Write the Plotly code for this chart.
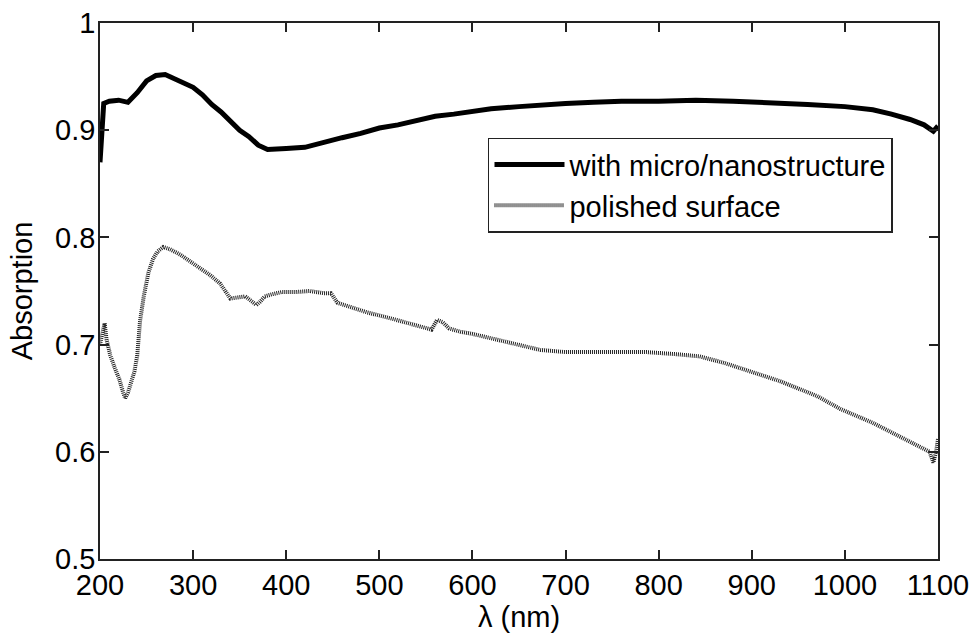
import plotly.graph_objects as go

# ---- data ----
wl_micro = [200, 202, 204, 210, 220, 230, 240, 250, 260, 270, 280, 290, 300, 310, 320, 330, 340, 350,
            360, 370, 380, 390, 400, 420, 440, 460, 480, 500, 520, 540, 560, 580, 600, 620, 650, 680,
            700, 730, 760, 800, 840, 880, 920, 960, 1000, 1030, 1050, 1070, 1085, 1095, 1100]
abs_micro = [0.870, 0.905, 0.925, 0.927, 0.928, 0.926, 0.935, 0.946, 0.951, 0.952, 0.948, 0.945, 0.940,
             0.933, 0.924, 0.917, 0.908, 0.900, 0.894, 0.886, 0.882, 0.883, 0.883, 0.884, 0.889, 0.893,
             0.897, 0.902, 0.905, 0.909, 0.913, 0.915, 0.918, 0.920, 0.922, 0.924, 0.925, 0.926, 0.927,
             0.927, 0.928, 0.927, 0.926, 0.924, 0.922, 0.919, 0.915, 0.910, 0.905, 0.899, 0.904]

wl_pol = [200, 203, 205, 207, 211, 216, 221, 225, 227, 230, 233, 237, 240, 243, 247, 252, 257, 262, 268,
          275, 286, 296, 307, 318, 329, 335, 340, 348, 356, 362, 368, 372, 377, 385, 395, 410, 425, 440,
          448, 455, 470, 487, 510, 530, 550, 556, 562, 568, 575, 587, 600, 630, 650, 673, 700, 737, 787,
          820, 844, 870, 898, 930, 970, 995, 1030, 1059, 1080, 1091, 1095, 1098, 1100]
abs_pol = [0.700, 0.715, 0.720, 0.705, 0.690, 0.678, 0.667, 0.655, 0.650, 0.655, 0.663, 0.675, 0.690,
           0.722, 0.745, 0.767, 0.780, 0.787, 0.791, 0.789, 0.784, 0.778, 0.772, 0.765, 0.757, 0.750,
           0.743, 0.744, 0.745, 0.741, 0.737, 0.740, 0.745, 0.747, 0.749, 0.749, 0.750, 0.748, 0.748,
           0.739, 0.735, 0.730, 0.725, 0.720, 0.715, 0.714, 0.723, 0.721, 0.715, 0.712, 0.710, 0.704,
           0.700, 0.695, 0.693, 0.693, 0.693, 0.691, 0.689, 0.683, 0.675, 0.666, 0.652, 0.640, 0.627,
           0.614, 0.605, 0.600, 0.590, 0.600, 0.612]

x_ticks = [200, 300, 400, 500, 600, 700, 800, 900, 1000, 1100]
y_ticks = [0.5, 0.6, 0.7, 0.8, 0.9, 1.0]
y_tick_text = ["0.5", "0.6", "0.7", "0.8", "0.9", "1"]
x_title = "λ (nm)"
y_title = "Absorption"

FONT = "Liberation Sans, Arial, sans-serif"
FS = 29

fig = go.Figure()
fig.add_trace(go.Scatter(x=wl_micro, y=abs_micro, mode="lines", name="with micro/nanostructure",
                         line=dict(color="black", width=5)))
fig.add_trace(go.Scatter(x=wl_pol, y=abs_pol, mode="lines", name="polished surface",
                         line=dict(color="#222222", width=4, dash="1px,1px")))

axis_common = dict(showline=True, mirror="ticks", linecolor="#222222", linewidth=1.5,
                   ticks="inside", ticklen=9, tickwidth=1.5, tickcolor="#222222",
                   showgrid=False, zeroline=False, automargin=False,
                   tickfont=dict(family=FONT, size=FS, color="black"))

fig.update_layout(
    width=977, height=634,
    margin=dict(l=100, r=39, t=23, b=75),
    plot_bgcolor="white", paper_bgcolor="white",
    font=dict(family=FONT, size=FS, color="black"),
    xaxis=dict(range=[200, 1100], tickvals=x_ticks, ticklabelstandoff=-1, **axis_common),
    yaxis=dict(range=[0.5, 1.0], tickvals=y_ticks, ticktext=y_tick_text, ticklabelstandoff=-3,
               title=dict(text=y_title, font=dict(family=FONT, size=FS), standoff=14),
               **axis_common),
    legend=dict(x=0.463, y=0.786, xanchor="left", yanchor="top",
                bgcolor="white", bordercolor="#222222", borderwidth=1.5,
                font=dict(family=FONT, size=FS), itemwidth=70,
                tracegroupgap=0),
    showlegend=True,
    annotations=[dict(text=x_title, xref="paper", yref="paper", x=0.5, y=-0.108,
                      xanchor="center", yanchor="middle", showarrow=False,
                      font=dict(family=FONT, size=FS, color="black"))],
)

fig.write_html("out.html")
